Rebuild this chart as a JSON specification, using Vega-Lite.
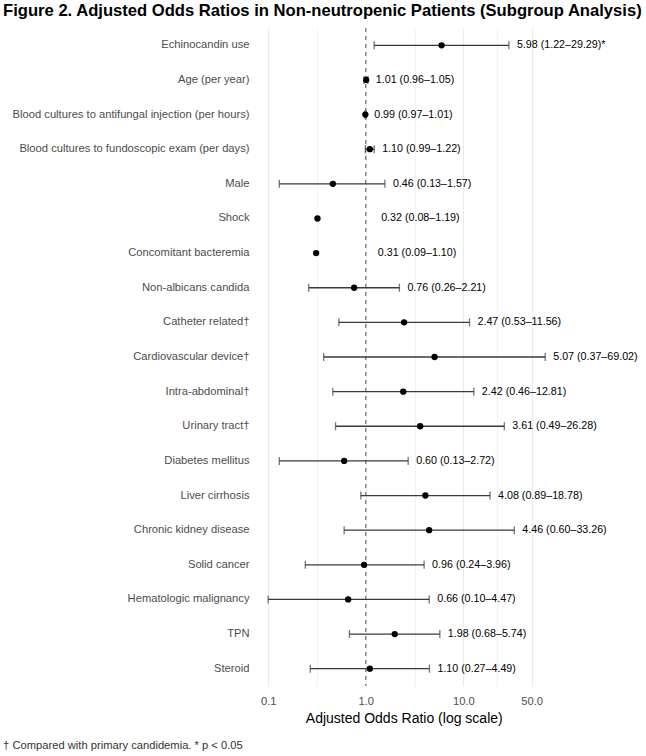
{
  "$schema": "https://vega.github.io/schema/vega-lite/v6.json",
  "background": "white",
  "padding": {"left": 3, "top": 2, "right": 5, "bottom": 5},
  "config": {"font": "Liberation Sans", "view": {"stroke": null}, "concat": {"spacing": 0}},
  "title": {"text": "† Compared with primary candidemia. * p < 0.05", "orient": "bottom", "anchor": "start", "frame": "bounds", "fontSize": 11.2, "fontWeight": "normal", "color": "#333333", "offset": 15},
  "vconcat": [
    {
      "width": 295.5,
      "height": 658,
      "title": {"text": "Figure 2. Adjusted Odds Ratios in Non-neutropenic Patients (Subgroup Analysis)", "anchor": "start", "frame": "bounds", "fontSize": 16.6, "fontWeight": "bold", "color": "#000000", "offset": 8, "dx": -9},
      "data": {"values": [
        {"term": "Echinocandin use", "or": 5.98, "lo": 1.22, "hi": 29.29, "label": "5.98 (1.22–29.29)*"},
        {"term": "Age (per year)", "or": 1.01, "lo": 0.96, "hi": 1.05, "label": "1.01 (0.96–1.05)"},
        {"term": "Blood cultures to antifungal injection (per hours)", "or": 0.99, "lo": 0.97, "hi": 1.01, "label": "0.99 (0.97–1.01)"},
        {"term": "Blood cultures to fundoscopic exam (per days)", "or": 1.10, "lo": 0.99, "hi": 1.22, "label": "1.10 (0.99–1.22)"},
        {"term": "Male", "or": 0.46, "lo": 0.13, "hi": 1.57, "label": "0.46 (0.13–1.57)"},
        {"term": "Shock", "or": 0.32, "lo": 0.08, "hi": 1.19, "label": "0.32 (0.08–1.19)"},
        {"term": "Concomitant bacteremia", "or": 0.31, "lo": 0.09, "hi": 1.10, "label": "0.31 (0.09–1.10)"},
        {"term": "Non-albicans candida", "or": 0.76, "lo": 0.26, "hi": 2.21, "label": "0.76 (0.26–2.21)"},
        {"term": "Catheter related†", "or": 2.47, "lo": 0.53, "hi": 11.56, "label": "2.47 (0.53–11.56)"},
        {"term": "Cardiovascular device†", "or": 5.07, "lo": 0.37, "hi": 69.02, "label": "5.07 (0.37–69.02)"},
        {"term": "Intra-abdominal†", "or": 2.42, "lo": 0.46, "hi": 12.81, "label": "2.42 (0.46–12.81)"},
        {"term": "Urinary tract†", "or": 3.61, "lo": 0.49, "hi": 26.28, "label": "3.61 (0.49–26.28)"},
        {"term": "Diabetes mellitus", "or": 0.60, "lo": 0.13, "hi": 2.72, "label": "0.60 (0.13–2.72)"},
        {"term": "Liver cirrhosis", "or": 4.08, "lo": 0.89, "hi": 18.78, "label": "4.08 (0.89–18.78)"},
        {"term": "Chronic kidney disease", "or": 4.46, "lo": 0.60, "hi": 33.26, "label": "4.46 (0.60–33.26)"},
        {"term": "Solid cancer", "or": 0.96, "lo": 0.24, "hi": 3.96, "label": "0.96 (0.24–3.96)"},
        {"term": "Hematologic malignancy", "or": 0.66, "lo": 0.10, "hi": 4.47, "label": "0.66 (0.10–4.47)"},
        {"term": "TPN", "or": 1.98, "lo": 0.68, "hi": 5.74, "label": "1.98 (0.68–5.74)"},
        {"term": "Steroid", "or": 1.10, "lo": 0.27, "hi": 4.49, "label": "1.10 (0.27–4.49)"}
      ]},
      "encoding": {
        "y": {"field": "term", "type": "nominal", "sort": null,
              "scale": {"type": "band", "paddingInner": 0, "paddingOuter": 0},
              "axis": {"title": null, "ticks": false, "domain": false, "grid": false, "labelFontSize": 11.2, "labelColor": "#4D4D4D", "labelPadding": 7, "labelLimit": 400}}
      },
      "layer": [
        {
          "mark": {"type": "point", "opacity": 0},
          "encoding": {
            "x": {"field": "or", "type": "quantitative", "title": "Adjusted Odds Ratio (log scale)",
                  "scale": {"type": "log", "domain": [0.075, 80], "nice": false},
                  "axis": {"values": [0.1, 0.3162, 1, 3.162, 10, 22.36, 50],
                           "labelExpr": "indexof([0.1, 1, 10, 50], datum.value) >= 0 ? format(datum.value, '.1f') : ''",
                           "grid": true, "gridColor": "#EBEBEB",
                           "gridWidth": {"condition": {"test": "indexof([0.1, 1, 10, 50], datum.value) >= 0", "value": 1.1}, "value": 0.6},
                           "ticks": false, "domain": false, "labelFontSize": 11.2, "labelColor": "#4D4D4D", "labelPadding": 9,
                           "titleFontSize": 14, "titleColor": "#000000", "titleFontWeight": "normal", "titlePadding": 5}}
          }
        },
        {
          "data": {"values": [{"ref": 1}]},
          "mark": {"type": "rule", "strokeDash": [4, 4], "color": "#555555", "strokeWidth": 1},
          "encoding": {"x": {"field": "ref", "type": "quantitative", "title": "Adjusted Odds Ratio (log scale)"}, "y": null}
        },
        {
          "transform": [{"filter": "datum.lo >= 0.1"}],
          "mark": {"type": "rule", "color": "#3A3A3A", "strokeWidth": 1.3},
          "encoding": {
            "x": {"field": "lo", "type": "quantitative", "title": "Adjusted Odds Ratio (log scale)"},
            "x2": {"field": "hi"}
          }
        },
        {
          "transform": [{"filter": "datum.lo >= 0.1"}],
          "mark": {"type": "tick", "color": "#3A3A3A", "thickness": 1.3, "size": 8, "orient": "vertical"},
          "encoding": {"x": {"field": "lo", "type": "quantitative", "title": "Adjusted Odds Ratio (log scale)"}}
        },
        {
          "transform": [{"filter": "datum.lo >= 0.1"}],
          "mark": {"type": "tick", "color": "#3A3A3A", "thickness": 1.3, "size": 8, "orient": "vertical"},
          "encoding": {"x": {"field": "hi", "type": "quantitative", "title": "Adjusted Odds Ratio (log scale)"}}
        },
        {
          "mark": {"type": "point", "filled": true, "color": "#000000", "opacity": 1, "size": 40},
          "encoding": {"x": {"field": "or", "type": "quantitative", "title": "Adjusted Odds Ratio (log scale)"}}
        },
        {
          "mark": {"type": "text", "align": "left", "baseline": "middle", "dx": 8, "fontSize": 10.7, "color": "#000000"},
          "encoding": {
            "x": {"field": "hi", "type": "quantitative", "title": "Adjusted Odds Ratio (log scale)"},
            "text": {"field": "label"}
          }
        }
      ]
    }
  ]
}
